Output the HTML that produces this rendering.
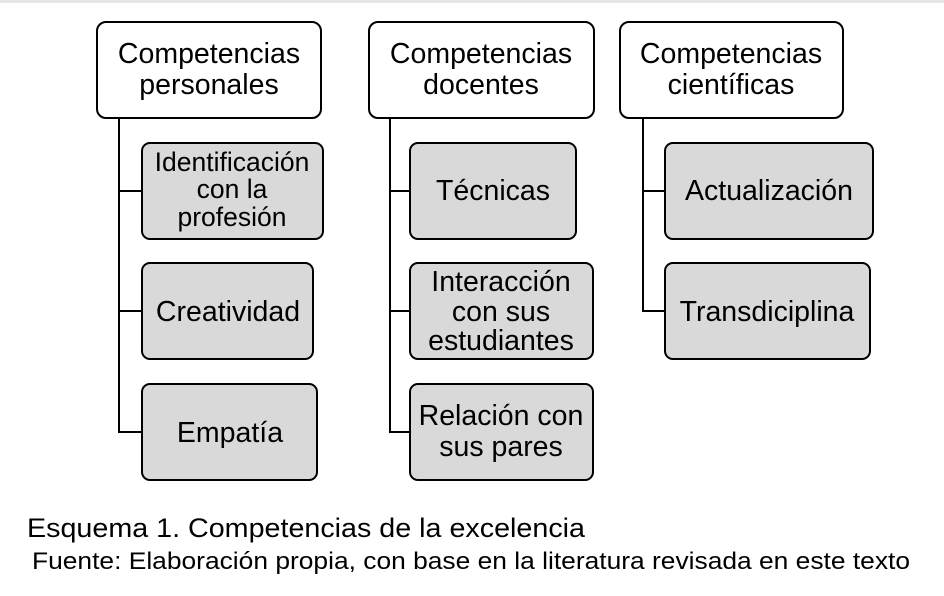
<!DOCTYPE html>
<html><head><meta charset="utf-8"><style>
html,body{margin:0;padding:0;background:#fff;width:944px;height:596px;overflow:hidden}
text{font-family:"Liberation Sans",Arial,sans-serif;fill:#000}
</style></head><body>
<svg width="944" height="596" viewBox="0 0 944 596" xmlns="http://www.w3.org/2000/svg">
<rect x="0" y="0" width="944" height="3" fill="#e6e6e6"/>
<g stroke="#000" stroke-width="2" fill="none">
<path d="M119 118V432H142M119 191H142M119 311H142"/>
<path d="M390 118V432H410M390 191H410M390 311H410"/>
<path d="M643 118V311H665M643 191H665"/>
</g>
<g stroke="#000" stroke-width="2">
<rect x="97" y="22" width="224" height="96" rx="9" fill="#fff"/>
<rect x="369" y="22" width="225" height="96" rx="9" fill="#fff"/>
<rect x="620" y="22" width="223" height="96" rx="9" fill="#fff"/>
<g fill="#d9d9d9">
<rect x="142" y="143" width="181" height="96" rx="8"/>
<rect x="142" y="263" width="171" height="96" rx="8"/>
<rect x="142" y="384" width="175" height="96" rx="8"/>
<rect x="410" y="143" width="166" height="96" rx="8"/>
<rect x="410" y="263" width="183" height="96" rx="8"/>
<rect x="410" y="384" width="183" height="96" rx="8"/>
<rect x="665" y="143" width="208" height="96" rx="8"/>
<rect x="665" y="263" width="205" height="96" rx="8"/>
</g>
</g>
<g font-size="28.5" text-anchor="middle">
<text x="209" y="63">Competencias</text><text x="209" y="94">personales</text>
<text x="481" y="63">Competencias</text><text x="481" y="94">docentes</text>
<text x="731" y="63">Competencias</text><text x="731" y="94">científicas</text>
<text x="228" y="321">Creatividad</text>
<text x="230" y="442">Empatía</text>
<text x="493" y="200">Técnicas</text>
<text x="769" y="200">Actualización</text>
<text x="767" y="321">Transdiciplina</text>
</g>
<g font-size="26.5" text-anchor="middle">
<text x="232" y="171">Identificación</text><text x="232" y="198">con la</text><text x="232" y="226">profesión</text>
</g>
<g font-size="28.5" text-anchor="middle">
<text x="501" y="291">Interacción</text><text x="501" y="321">con sus</text><text x="501" y="350">estudiantes</text>
<text x="501" y="425">Relación con</text><text x="501" y="456">sus pares</text>
</g>
<text x="27" y="537" font-size="27" textLength="558" lengthAdjust="spacingAndGlyphs">Esquema 1. Competencias de la excelencia</text>
<text x="32" y="569" font-size="24" textLength="878" lengthAdjust="spacingAndGlyphs">Fuente: Elaboración propia, con base en la literatura revisada en este texto</text>
</svg>
</body></html>
